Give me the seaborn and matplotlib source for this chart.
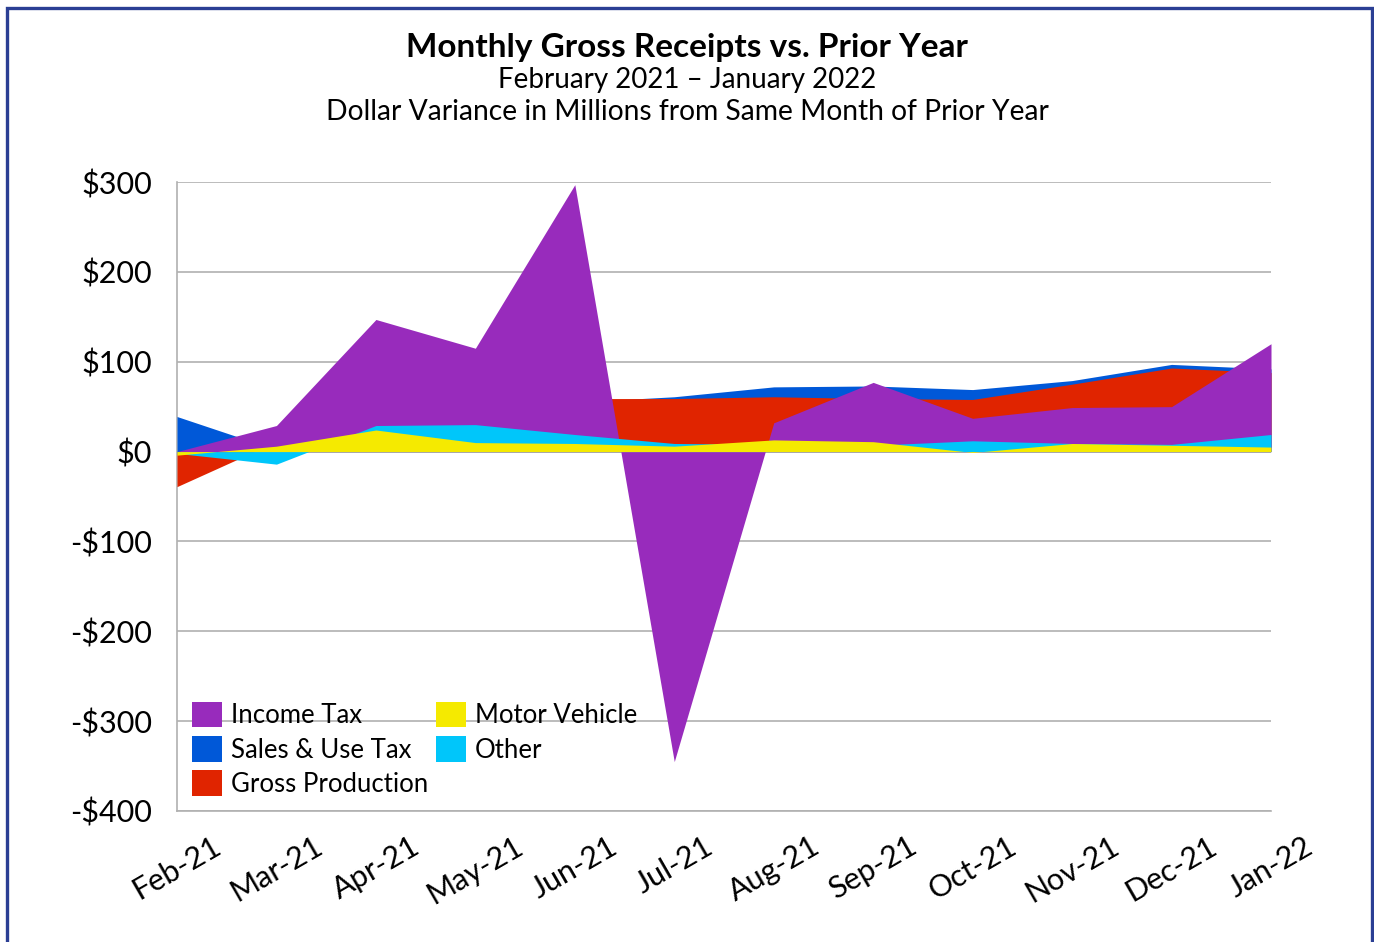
import matplotlib
matplotlib.use("Agg")
import matplotlib.pyplot as plt
from matplotlib.patches import Rectangle, Patch
import seaborn as sns
import pandas as pd

months = ["Feb-21", "Mar-21", "Apr-21", "May-21", "Jun-21", "Jul-21",
          "Aug-21", "Sep-21", "Oct-21", "Nov-21", "Dec-21", "Jan-22"]

# dollar variance in millions
sales_use = [39, 2, 20, 35, 55, 61, 72, 73, 69, 79, 97, 92]
gross_prod = [-39, 11, 30, 45, 59, 59, 61, 59, 58, 75, 93, 88]
income_tax = [0, 29, 147, 115, 297, -345, 32, 77, 37, 49, 50, 120]
other = [-2, -14, 29, 30, 19, 9, 8, 7, 12, 9, 8, 19]
motor_vehicle = [-4, 6, 24, 10, 9, 6, 13, 11, -1, 9, 7, 5]

y_ticks = [-400, -300, -200, -100, 0, 100, 200, 300]

colors = {
    "Sales & Use Tax": "#0058D8",
    "Gross Production": "#E02400",
    "Income Tax": "#982BBC",
    "Other": "#00C6FA",
    "Motor Vehicle": "#F5EA00",
}

df = pd.DataFrame({
    "month": months,
    "Sales & Use Tax": sales_use,
    "Gross Production": gross_prod,
    "Income Tax": income_tax,
    "Other": other,
    "Motor Vehicle": motor_vehicle,
})

sns.set_theme(style="white")
plt.rcParams["font.family"] = ["Lato", "DejaVu Sans"]
plt.rcParams["text.color"] = "black"

fig = plt.figure(figsize=(13.74, 9.42), dpi=100)
ax = fig.add_axes([177 / 1374, 1 - 811 / 942, (1271 - 177) / 1374, (811 - 182) / 942])

x = list(range(len(months)))
# overlapping (not stacked) areas, drawn back to front
for name in ["Sales & Use Tax", "Gross Production", "Income Tax", "Other", "Motor Vehicle"]:
    ax.fill_between(x, 0, df[name], color=colors[name], linewidth=0, zorder=3)

ax.set_xlim(0, len(months) - 1)
ax.set_ylim(-400, 300)
ax.set_yticks(y_ticks)
ax.set_yticklabels([f"${v}" if v >= 0 else f"-${-v}" for v in y_ticks], fontsize=22)
ax.set_xticks(x)
ax.set_xticklabels(months, rotation=30, ha="center", fontsize=22)

ax.grid(axis="y", color="#B0B0B0", linewidth=1.2, zorder=1)
ax.grid(axis="x", visible=False)
for side in ["top", "right"]:
    ax.spines[side].set_visible(False)
for side in ["left", "bottom"]:
    ax.spines[side].set_color("#B0B0B0")
    ax.spines[side].set_linewidth(1.2)
ax.tick_params(axis="y", length=0, pad=18, colors="black")
ax.tick_params(axis="x", length=5, width=1, color="#B0B0B0", pad=10, labelcolor="black")

order = ["Income Tax", "Sales & Use Tax", "Gross Production", "Motor Vehicle", "Other"]
handles = [Patch(facecolor=colors[n], edgecolor="none") for n in order]
ax.legend(handles, order, ncol=2, frameon=False, fontsize=18.5,
          loc="lower left", bbox_to_anchor=(-0.007, -0.014),
          handlelength=1.15, handleheight=1.15, handletextpad=0.35,
          columnspacing=0.3, labelspacing=0.3)

fig.text(0.5, 1 - 47 / 942, "Monthly Gross Receipts vs. Prior Year", ha="center", va="center",
         fontsize=24, fontweight="bold")
fig.text(0.5, 1 - 80 / 942, "February 2021 \u2013 January 2022", ha="center", va="center", fontsize=20)
fig.text(0.5, 1 - 112 / 942, "Dollar Variance in Millions from Same Month of Prior Year",
         ha="center", va="center", fontsize=20.3)

fig.patches.append(Rectangle((7 / 1374, -0.05), 1365 / 1374, 1.05 - 8 / 942,
                             transform=fig.transFigure, fill=False,
                             edgecolor="#2B3F94", linewidth=2.4))

fig.savefig("out.png", dpi=100)
